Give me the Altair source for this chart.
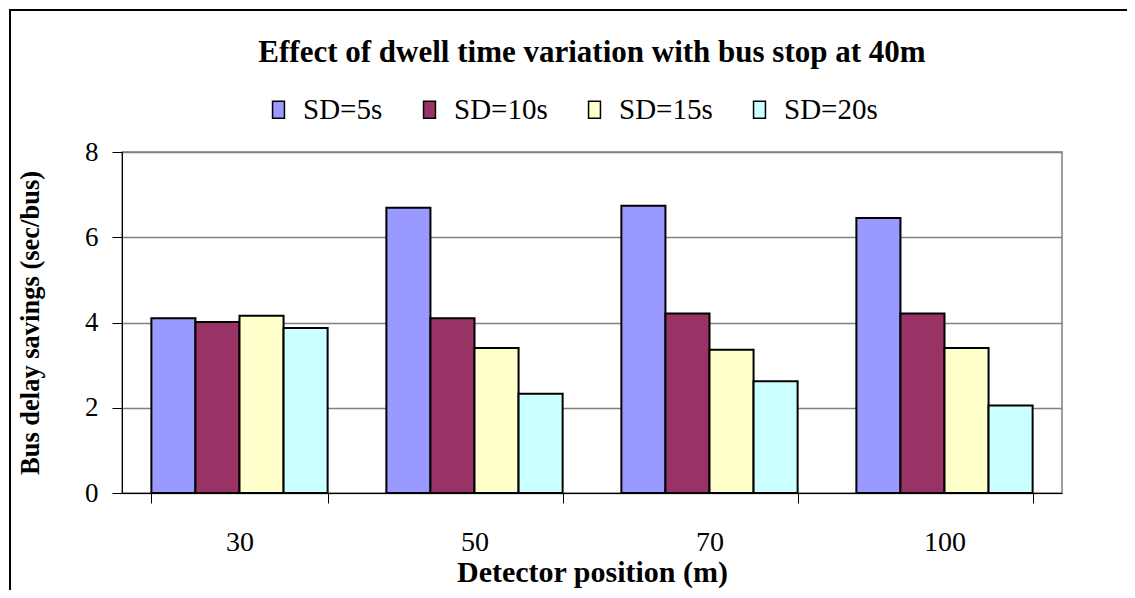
import altair as alt
import pandas as pd

positions = ["30", "50", "70", "100"]
series = ["SD=5s", "SD=10s", "SD=15s", "SD=20s"]
sd5 = [4.10, 6.69, 6.74, 6.45]
sd10 = [4.01, 4.10, 4.21, 4.21]
sd15 = [4.16, 3.40, 3.36, 3.40]
sd20 = [3.87, 2.33, 2.62, 2.05]
colors = ["#9999FF", "#993366", "#FFFFCC", "#CCFFFF"]

rows = []
for s, vals in zip(series, [sd5, sd10, sd15, sd20]):
    for p, v in zip(positions, vals):
        rows.append({"pos": p, "series": s, "value": v})
df = pd.DataFrame(rows)

FONT = "Liberation Serif"

bars = alt.Chart(df).mark_bar(stroke="black", strokeWidth=2).encode(
    x=alt.X("pos:N", sort=positions,
            scale=alt.Scale(paddingInner=0.25, paddingOuter=0.125),
            axis=alt.Axis(title="Detector position (m)", labelAngle=0,
                          tickBand="extent", tickSize=10, tickColor="black",
                          domainColor="black", labelPadding=25,
                          labelFontSize=28, titleFontSize=30, titlePadding=1,
                          labelFont=FONT, titleFont=FONT, titleFontWeight="bold",
                          labelColor="black", titleColor="black")),
    xOffset=alt.XOffset("series:N", sort=series,
                        scale=alt.Scale(paddingInner=0, paddingOuter=0)),
    y=alt.Y("value:Q", scale=alt.Scale(domain=[0, 8]),
            axis=alt.Axis(title="Bus delay savings (sec/bus)", values=[0, 2, 4, 6, 8],
                          grid=True, gridColor="#808080", gridWidth=1.5,
                          tickSize=10, tickColor="black", domainColor="black",
                          labelPadding=14, labelFontSize=27, titleFontSize=26.5,
                          titlePadding=40, labelFont=FONT, titleFont=FONT,
                          titleFontWeight="bold", labelColor="black", titleColor="black")),
    color=alt.Color("series:N", sort=series,
                    scale=alt.Scale(domain=series, range=colors),
                    legend=alt.Legend(title=None, orient="none", direction="horizontal",
                                      legendX=142, legendY=-57,
                                      symbolType="M-0.7,-1H0.7V1H-0.7Z",
                                      symbolSize=289, symbolStrokeColor="black",
                                      symbolStrokeWidth=1.5, symbolOpacity=1,
                                      labelFont=FONT, labelFontSize=29, labelColor="black",
                                      labelOffset=10, columnPadding=32,
                                      labelLimit=300)),
)

frame = alt.Chart(pd.DataFrame({"a": [0]})).mark_rect(
    fill=None, stroke="black", strokeWidth=2, clip=False
).encode(
    x=alt.value(-112), x2=alt.value(1200), y=alt.value(-142), y2=alt.value(600)
)

chart = alt.layer(frame, bars).properties(
    width=940, height=341,
    title=alt.Title("Effect of dwell time variation with bus stop at 40m",
                    font=FONT, fontSize=31, fontWeight="bold", color="black",
                    anchor="middle", offset=-60),
    autosize=alt.AutoSizeParams(type="none"),
    padding={"left": 114, "top": 144, "right": 65, "bottom": 97},
).configure_view(
    stroke="#808080", strokeWidth=1.5
).configure_legend(
    labelFont=FONT, labelFontSize=29, labelColor="black"
)

chart.save("out.html", embed_options={"renderer": "svg", "actions": False})
